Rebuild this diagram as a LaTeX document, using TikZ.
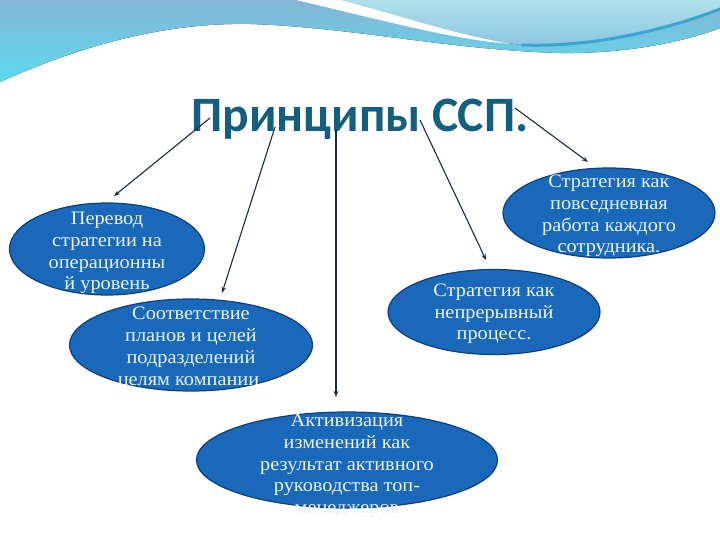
\documentclass[tikz,border=0pt]{standalone}
\usepackage{fontspec}
\setmainfont{Liberation Serif}
\newfontfamily\lblfont[FakeStretch=1.07]{Liberation Serif}
\newfontfamily\titlefont{Carlito}
\usetikzlibrary{shapes.geometric,arrows.meta}

\definecolor{ellfill}{HTML}{1A68BA}
\definecolor{ellline}{HTML}{0E3F7C}
\definecolor{titlecol}{HTML}{145E7E}
\definecolor{arrcol}{HTML}{1A2A48}
\definecolor{txtcol}{HTML}{EAF4F6}
\definecolor{wavetop}{HTML}{84B6D6}
\definecolor{wavebot}{HTML}{5EDAEE}
\definecolor{lighttop}{HTML}{AEE0E8}
\definecolor{lightbot}{HTML}{8CC6E4}
\definecolor{darkcurve}{HTML}{3AA6D2}

\begin{document}
\begin{tikzpicture}[x=1pt,y=-1pt,
  ell/.style={ellipse, draw=ellline, line width=1.2pt, fill=ellfill, inner sep=0pt},
  lbl/.style={text=txtcol, font=\lblfont\fontsize{19}{21.7}\selectfont, align=center, inner sep=0pt},
  arr/.style={draw=arrcol, line width=1.1pt, -{Stealth[length=6pt,width=4.5pt]}}]
\useasboundingbox (0,0) rectangle (720,540);

% top wave decoration
\fill[top color=wavetop, bottom color=wavebot]
  (0,0) -- (720,0) -- (720,28)
  .. controls (690,40) and (630,54) .. (560,53)
  .. controls (450,50) and (350,27) .. (250,24)
  .. controls (150,22) and (60,55) .. (0,82) -- cycle;
\fill[top color=lighttop, bottom color=lightbot]
  (315,0) .. controls (400,20) and (460,38) .. (515,44)
  .. controls (600,48) and (680,25) .. (720,8) -- (720,0) -- cycle;
\fill[white]
  (296,0) .. controls (390,22) and (455,40) .. (512,44)
  .. controls (455,35) and (395,14) .. (340,0) -- cycle;
\draw[darkcurve, line width=3pt, line cap=round]
  (522,45) .. controls (600,48) and (680,25) .. (720,9);

% title
\node[text=titlecol, font=\titlefont\bfseries\fontsize{49.5}{54}\selectfont, anchor=base, inner sep=0pt]
  (title) at (360,132) {Принципы ССП.};

% ellipses
\node[ell, minimum width=195pt, minimum height=92pt] (e1) at (107,249) {};
\node[ell, minimum width=243pt, minimum height=92pt] (e2) at (191,345) {};
\node[ell, minimum width=212pt, minimum height=90pt] (e3) at (609,213) {};
\node[ell, minimum width=212pt, minimum height=85pt] (e4) at (494,312) {};
\node[ell, minimum width=301pt, minimum height=96pt] (e5) at (347,460) {};

\node[lbl] (t1) at ([yshift=-4pt]e1) {Перевод\\стратегии на\\операционны\\й уровень};
\node[lbl] (t2) at ([yshift=-3pt]e2) {Соответствие\\планов и целей\\подразделений\\целям компании.};
\node[lbl] (t3) at ([yshift=-3pt]e3) {Стратегия как\\повседневная\\работа каждого\\сотрудника.};
\node[lbl] (t4) at ([yshift=-2pt]e4) {Стратегия как\\непрерывный\\процесс.};
\node[lbl] (t5) at ([yshift=-6pt]e5) {Активизация\\изменений как\\результат активного\\руководства топ-\\менеджеров};

% connectors
\coordinate (s1) at (210,118);
\coordinate (s2) at (275,127);
\coordinate (s3) at (336,130);
\coordinate (s4) at (420,120);
\coordinate (s5) at (515,108);
\coordinate (d1) at (114,196);
\coordinate (d2) at (222,293);
\coordinate (d3) at (336,397);
\coordinate (d4) at (486,260);
\coordinate (d5) at (588,162);
\draw[arr] (s1) -- (d1);
\draw[arr] (s2) -- (d2);
\draw[arr] (s3) -- (d3);
\draw[arr] (s4) -- (d4);
\draw[arr] (s5) -- (d5);
\end{tikzpicture}
\end{document}
